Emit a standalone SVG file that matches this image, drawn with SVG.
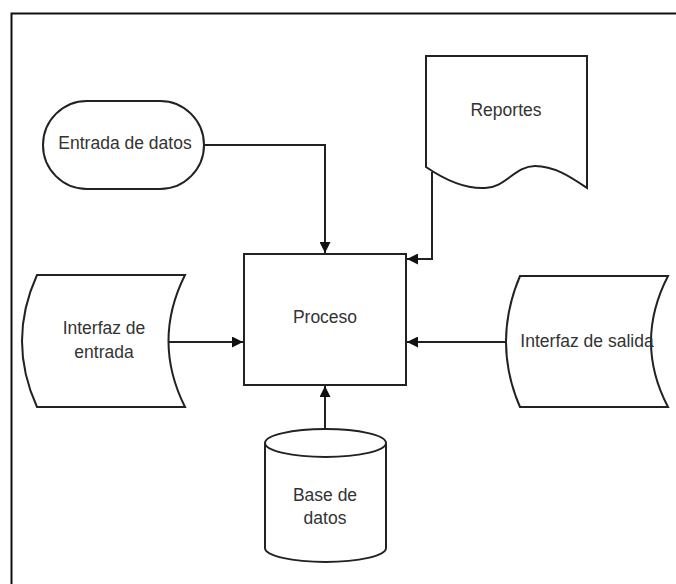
<svg xmlns="http://www.w3.org/2000/svg" width="676" height="584" viewBox="0 0 676 584">
<defs>
<style>
.s{fill:#fff;stroke:#222;stroke-width:2}
.c{fill:none;stroke:#222;stroke-width:2}
.t{font-family:"Liberation Sans",Arial,sans-serif;font-size:17.5px;fill:#333;text-anchor:middle}
</style>
<marker id="ah" viewBox="0 0 10 10" refX="10" refY="5" markerWidth="11" markerHeight="11" markerUnits="userSpaceOnUse" orient="auto">
<path d="M0,0 L10,5 L0,10 Z" fill="#111"/>
</marker>
</defs>
<rect width="676" height="584" fill="#fff"/>
<rect x="11.5" y="13.5" width="700" height="600" fill="none" stroke="#111" stroke-width="2"/>
<g id="connectors">
<path class="c" d="M204,145 H325 V253" marker-end="url(#ah)"/>
<path class="c" d="M432,172 V259 H407" marker-end="url(#ah)"/>
<path class="c" d="M168,342 H243" marker-end="url(#ah)"/>
<path class="c" d="M506,342 H407" marker-end="url(#ah)"/>
<path class="c" d="M325,429 V386" marker-end="url(#ah)"/>
</g>
<g id="proceso">
<rect class="s" x="244" y="254" width="162" height="131"/>
<text class="t" x="325" y="323">Proceso</text>
</g>
<g id="entrada-datos">
<rect class="s" x="43" y="101" width="161" height="88" rx="44" ry="44"/>
<text class="t" x="125" y="149">Entrada de datos</text>
</g>
<g id="reportes">
<path class="s" d="M426,56 H587 V188 C572,178 555,166 535,166 C515,166 505,188 485,188 C465,189 445,180 426,167 Z"/>
<text class="t" x="506" y="116">Reportes</text>
</g>
<g id="interfaz-entrada">
<path class="s" d="M37,275 H185 Q152,341 185,407 H37 Q7,341 37,275 Z"/>
<text class="t" x="104" y="334">Interfaz de</text>
<text class="t" x="104" y="358">entrada</text>
</g>
<g id="interfaz-salida">
<path class="s" d="M520,276 H668 Q634,342 668,407 H520 Q492,342 520,276 Z"/>
<text class="t" x="587" y="347">Interfaz de salida</text>
</g>
<g id="base-datos">
<path class="s" d="M265,443 V548 A60.5,14 0 0 0 386,548 V443"/>
<ellipse class="s" cx="325.5" cy="443" rx="60.5" ry="14"/>
<text class="t" x="325" y="501">Base de</text>
<text class="t" x="325" y="524">datos</text>
</g>
</svg>
